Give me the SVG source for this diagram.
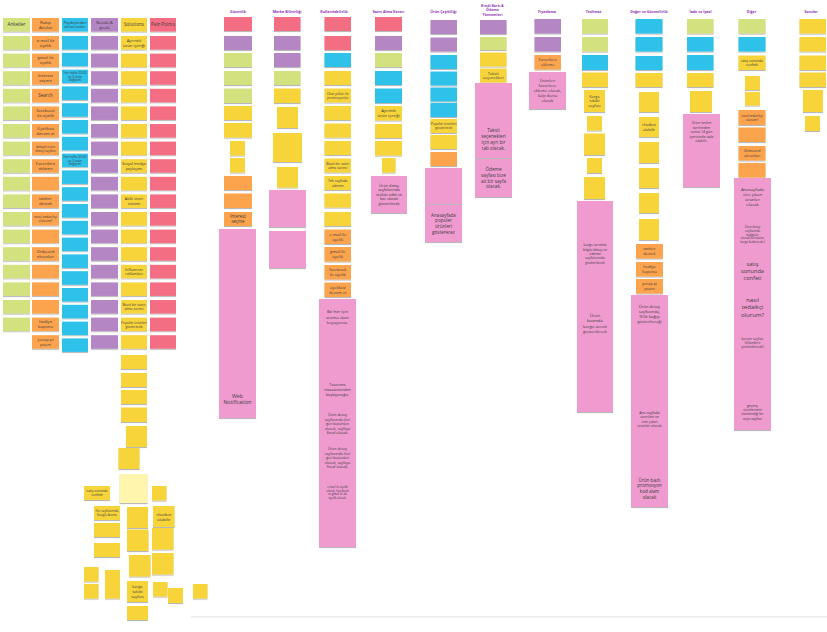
<svg xmlns="http://www.w3.org/2000/svg" width="827" height="632" viewBox="0 0 827 632">
<defs>
<filter id="sh" x="-10%" y="-10%" width="120%" height="150%"><feDropShadow dx="0" dy="1.1" stdDeviation="0.7" flood-color="#000" flood-opacity="0.28"/></filter>
<style>
.n{filter:url(#sh)}
.g{fill:#d3e17f}.o{fill:#fca34d}.b{fill:#2fc1ea}.v{fill:#b486c4}.y{fill:#f8d43a}.r{fill:#f36e82}.k{fill:#ef9bd0}.ly{fill:#fff5ad}
text{font-family:"Open Sans","Liberation Sans",sans-serif;text-anchor:middle;fill:#3c3c3c}
.h{fill:#8f30b3;font-weight:bold;font-size:3.6px}
</style>
</defs>
<rect width="827" height="632" fill="#ffffff"/>
<rect x="191" y="616" width="636" height="1.6" fill="#ececec"/>
<g id="connectors"/>

<!-- LEFT BOARD -->
<g id="left-headers">
<g id="h-anketler"><rect class="n g" x="3" y="18" width="27" height="13.5"/><text x="16.5" y="26.4" font-size="4.6">Anketler</text></g>
<g id="h-rakip"><rect class="n o" x="32" y="18" width="27" height="13.5"/><text x="45.5" font-size="4.3"><tspan x="45.5" y="23.6">Rakip</tspan><tspan x="45.5" y="28.8">Analizi</tspan></text></g>
<g id="h-paydas"><rect class="n b" x="62" y="18" width="26" height="13.5"/><text x="75" font-size="3.6"><tspan x="75" y="23.8">Paydaşlardan</tspan><tspan x="75" y="28.2">alınan notlar</tspan></text></g>
<g id="h-needs"><rect class="n v" x="91" y="18" width="27" height="13.5"/><text x="104.5" font-size="4.3"><tspan x="104.5" y="23.6">Needs &amp;</tspan><tspan x="104.5" y="28.8">goals</tspan></text></g>
<g id="h-solutions"><rect class="n y" x="121" y="18" width="26" height="13.5"/><text x="134" y="26.4" font-size="4.6">Solutions</text></g>
<g id="h-pain"><rect class="n r" x="150" y="18" width="26" height="13.5"/><text x="163" y="26.4" font-size="4.6">Pain Points</text></g>
</g>

<g id="col-anketler">
<rect id="a0" class="n g" x="3" y="36" width="27" height="13.5"/>
<rect id="a1" class="n g" x="3" y="53.6" width="27" height="13.5"/>
<rect id="a2" class="n g" x="3" y="71.2" width="27" height="13.5"/>
<rect id="a3" class="n g" x="3" y="88.8" width="27" height="13.5"/>
<rect id="a4" class="n g" x="3" y="106.4" width="27" height="13.5"/>
<rect id="a5" class="n g" x="3" y="124" width="27" height="13.5"/>
<rect id="a6" class="n g" x="3" y="141.6" width="27" height="13.5"/>
<rect id="a7" class="n g" x="3" y="159.2" width="27" height="13.5"/>
<rect id="a8" class="n g" x="3" y="176.8" width="27" height="13.5"/>
<rect id="a9" class="n g" x="3" y="194.4" width="27" height="13.5"/>
<rect id="a10" class="n g" x="3" y="212" width="27" height="13.5"/>
<rect id="a11" class="n g" x="3" y="229.6" width="27" height="13.5"/>
<rect id="a12" class="n g" x="3" y="247.2" width="27" height="13.5"/>
<rect id="a13" class="n g" x="3" y="264.8" width="27" height="13.5"/>
<rect id="a14" class="n g" x="3" y="282.4" width="27" height="13.5"/>
<rect id="a15" class="n g" x="3" y="300" width="27" height="13.5"/>
<rect id="a16" class="n g" x="3" y="317.6" width="27" height="13.5"/>
</g>

<g id="col-rakip">
<g id="o0"><rect class="n o" x="32" y="36" width="27" height="13.5"/><text font-size="4.2"><tspan x="45.5" y="41.7">e-mail ile</tspan><tspan x="45.5" y="46.7">üyelik</tspan></text></g>
<g id="o1"><rect class="n o" x="32" y="53.6" width="27" height="13.5"/><text font-size="4.2"><tspan x="45.5" y="59.3">gmail ile</tspan><tspan x="45.5" y="64.3">üyelik</tspan></text></g>
<g id="o2"><rect class="n o" x="32" y="71.2" width="27" height="13.5"/><text font-size="4.2"><tspan x="45.5" y="76.9">Interest</tspan><tspan x="45.5" y="81.9">seçme</tspan></text></g>
<g id="o3"><rect class="n o" x="32" y="88.8" width="27" height="13.5"/><text x="45.5" y="97.1" font-size="4.6">Search</text></g>
<g id="o4"><rect class="n o" x="32" y="106.4" width="27" height="13.5"/><text font-size="4.2"><tspan x="45.5" y="112.1">facebook</tspan><tspan x="45.5" y="117.1">ile üyelik</tspan></text></g>
<g id="o5"><rect class="n o" x="32" y="124" width="27" height="13.5"/><text font-size="4.2"><tspan x="45.5" y="129.7">Üyeliksiz</tspan><tspan x="45.5" y="134.7">devam et</tspan></text></g>
<g id="o6"><rect class="n o" x="32" y="141.6" width="27" height="13.5"/><text font-size="3.4"><tspan x="45.5" y="147.5">detaylı ürün</tspan><tspan x="45.5" y="151.5">detay sayfası</tspan></text></g>
<g id="o7"><rect class="n o" x="32" y="159.2" width="27" height="13.5"/><text font-size="4.2"><tspan x="45.5" y="164.9">Favorilere</tspan><tspan x="45.5" y="169.9">ekleme</tspan></text></g>
<rect id="o8" class="n o" x="32" y="176.8" width="27" height="13.5"/>
<g id="o9"><rect class="n o" x="32" y="194.4" width="27" height="13.5"/><text font-size="4.2"><tspan x="45.5" y="200.1">twitter</tspan><tspan x="45.5" y="205.1">destek</tspan></text></g>
<g id="o10"><rect class="n o" x="32" y="212" width="27" height="13.5"/><text font-size="3.6"><tspan x="45.5" y="217.8">nasıl tedarikçi</tspan><tspan x="45.5" y="222.2">olurum?</tspan></text></g>
<rect id="o11" class="n o" x="32" y="229.6" width="27" height="13.5"/>
<g id="o12"><rect class="n o" x="32" y="247.2" width="27" height="13.5"/><text font-size="4.2"><tspan x="45.5" y="252.9">Onboard</tspan><tspan x="45.5" y="257.9">ekranları</tspan></text></g>
<rect id="o13" class="n o" x="32" y="264.8" width="27" height="13.5"/>
<rect id="o14" class="n o" x="32" y="282.4" width="27" height="13.5"/>
<rect id="o15" class="n o" x="32" y="300" width="27" height="13.5"/>
<g id="o16"><rect class="n o" x="32" y="317.6" width="27" height="13.5"/><text font-size="4.2"><tspan x="45.5" y="323.3">hediye</tspan><tspan x="45.5" y="328.3">kuponu</tspan></text></g>
<g id="o17"><rect class="n o" x="32" y="335.2" width="27" height="13.5"/><text font-size="4.2"><tspan x="45.5" y="340.9">yorap pi</tspan><tspan x="45.5" y="345.9">puanı</tspan></text></g>
</g>

<g id="col-paydas">
<rect id="b0" class="n b" x="62" y="36" width="26" height="13.5"/>
<rect id="b1" class="n b" x="62" y="52.8" width="26" height="13.5"/>
<g id="b2"><rect class="n b" x="62" y="69.6" width="26" height="13.5"/><text font-size="3.2"><tspan x="75" y="73.7">Her hafta 30.00</tspan><tspan x="75" y="77.5">ya 3 ürün</tspan><tspan x="75" y="81.3">değişimi</tspan></text></g>
<rect id="b3" class="n b" x="62" y="86.4" width="26" height="13.5"/>
<rect id="b4" class="n b" x="62" y="103.2" width="26" height="13.5"/>
<rect id="b5" class="n b" x="62" y="120" width="26" height="13.5"/>
<rect id="b6" class="n b" x="62" y="136.8" width="26" height="13.5"/>
<g id="b7"><rect class="n b" x="62" y="153.6" width="26" height="13.5"/><text font-size="3.2"><tspan x="75" y="157.7">Her hafta 30.00</tspan><tspan x="75" y="161.5">ya 3 ürün</tspan><tspan x="75" y="165.3">değişimi</tspan></text></g>
<rect id="b8" class="n b" x="62" y="170.4" width="26" height="13.5"/>
<rect id="b9" class="n b" x="62" y="187.2" width="26" height="13.5"/>
<rect id="b10" class="n b" x="62" y="204" width="26" height="13.5"/>
<rect id="b11" class="n b" x="62" y="220.8" width="26" height="13.5"/>
<rect id="b12" class="n b" x="62" y="237.6" width="26" height="13.5"/>
<rect id="b13" class="n b" x="62" y="254.4" width="26" height="13.5"/>
<rect id="b14" class="n b" x="62" y="271.2" width="26" height="13.5"/>
<rect id="b15" class="n b" x="62" y="288" width="26" height="13.5"/>
<rect id="b16" class="n b" x="62" y="304.8" width="26" height="13.5"/>
<rect id="b17" class="n b" x="62" y="321.6" width="26" height="13.5"/>
<rect id="b18" class="n b" x="62" y="338.4" width="26" height="13.5"/>
</g>

<g id="col-needs">
<rect id="v0" class="n v" x="91" y="36" width="27" height="13.5"/>
<rect id="v1" class="n v" x="91" y="53.6" width="27" height="13.5"/>
<rect id="v2" class="n v" x="91" y="71.2" width="27" height="13.5"/>
<rect id="v3" class="n v" x="91" y="88.8" width="27" height="13.5"/>
<rect id="v4" class="n v" x="91" y="106.4" width="27" height="13.5"/>
<rect id="v5" class="n v" x="91" y="124" width="27" height="13.5"/>
<rect id="v6" class="n v" x="91" y="141.6" width="27" height="13.5"/>
<rect id="v7" class="n v" x="91" y="159.2" width="27" height="13.5"/>
<rect id="v8" class="n v" x="91" y="176.8" width="27" height="13.5"/>
<rect id="v9" class="n v" x="91" y="194.4" width="27" height="13.5"/>
<rect id="v10" class="n v" x="91" y="212" width="27" height="13.5"/>
<rect id="v11" class="n v" x="91" y="229.6" width="27" height="13.5"/>
<rect id="v12" class="n v" x="91" y="247.2" width="27" height="13.5"/>
<rect id="v13" class="n v" x="91" y="264.8" width="27" height="13.5"/>
<rect id="v14" class="n v" x="91" y="282.4" width="27" height="13.5"/>
<rect id="v15" class="n v" x="91" y="300" width="27" height="13.5"/>
<rect id="v16" class="n v" x="91" y="317.6" width="27" height="13.5"/>
<rect id="v17" class="n v" x="91" y="335.2" width="27" height="13.5"/>
</g>

<g id="col-solutions">
<g id="s0"><rect class="n y" x="121" y="36" width="26" height="13.5"/><text font-size="4.2"><tspan x="134" y="41.7">Ayrıntılı</tspan><tspan x="134" y="46.7">ürün içeriği</tspan></text></g>
<rect id="s1" class="n y" x="121" y="53.6" width="26" height="13.5"/>
<rect id="s2" class="n y" x="121" y="71.2" width="26" height="13.5"/>
<rect id="s3" class="n y" x="121" y="88.8" width="26" height="13.5"/>
<rect id="s4" class="n y" x="121" y="106.4" width="26" height="13.5"/>
<rect id="s5" class="n y" x="121" y="124" width="26" height="13.5"/>
<rect id="s6" class="n y" x="121" y="141.6" width="26" height="13.5"/>
<g id="s7"><rect class="n y" x="121" y="159.2" width="26" height="13.5"/><text font-size="3.8"><tspan x="134" y="165">Sosyal medya</tspan><tspan x="134" y="169.6">paylaşımı</tspan></text></g>
<rect id="s8" class="n y" x="121" y="176.8" width="26" height="13.5"/>
<g id="s9"><rect class="n y" x="121" y="194.4" width="26" height="13.5"/><text font-size="3.8"><tspan x="134" y="200.2">Akıllı öneri</tspan><tspan x="134" y="204.8">sistemi</tspan></text></g>
<rect id="s10" class="n y" x="121" y="212" width="26" height="13.5"/>
<rect id="s11" class="n y" x="121" y="229.6" width="26" height="13.5"/>
<rect id="s12" class="n y" x="121" y="247.2" width="26" height="13.5"/>
<g id="s13"><rect class="n y" x="121" y="264.8" width="26" height="13.5"/><text font-size="3.8"><tspan x="134" y="270.6">Influencer</tspan><tspan x="134" y="275.2">reklamları</tspan></text></g>
<rect id="s14" class="n y" x="121" y="282.4" width="26" height="13.5"/>
<g id="s15"><rect class="n y" x="121" y="300" width="26" height="13.5"/><text font-size="3.6"><tspan x="134" y="305.8">Basit bir satın</tspan><tspan x="134" y="310.2">alma süreci</tspan></text></g>
<g id="s16"><rect class="n y" x="121" y="317.6" width="26" height="13.5"/><text font-size="3.4"><tspan x="134" y="323.5">Popüler ürünleri</tspan><tspan x="134" y="327.6">gösterecek</tspan></text></g>
<rect id="s17" class="n y" x="121" y="335.2" width="26" height="13.5"/>
<rect id="s18" class="n y" x="121" y="355" width="26" height="14"/>
<rect id="s19" class="n y" x="121" y="373" width="26" height="14"/>
<rect id="s20" class="n y" x="121" y="390" width="26" height="14"/>
<rect id="s21" class="n y" x="121" y="407.5" width="26" height="14.5"/>
<rect id="s22" class="n y" x="126" y="426" width="21" height="21"/>
<rect id="s23" class="n y" x="118.5" y="448" width="21" height="21"/>
<rect id="s24" class="n ly" x="119.5" y="474" width="28" height="29"/>
<g id="s25"><rect class="n y" x="84" y="486" width="26" height="14"/><text font-size="3.3"><tspan x="97" y="492.1">satış sonunda</tspan><tspan x="97" y="496.1">confetti</tspan></text></g>
<rect id="s26" class="n y" x="152" y="486" width="14.5" height="14.5"/>
<g id="s27"><rect class="n y" x="94" y="506" width="26" height="14"/><text font-size="3"><tspan x="107" y="512.2">Her sayfalarında</tspan><tspan x="107" y="515.9">Google Arama</tspan></text></g>
<rect id="s28" class="n y" x="127" y="507" width="21" height="21"/>
<g id="s29"><rect class="n y" x="153" y="506" width="21.5" height="21"/><text font-size="4.2"><tspan x="163.75" y="515.5">chatbot</tspan><tspan x="163.75" y="520.5">olabilir</tspan></text></g>
<rect id="s30" class="n y" x="94" y="523" width="26" height="14"/>
<rect id="s31" class="n y" x="127" y="529.5" width="21.5" height="21.5"/>
<rect id="s32" class="n y" x="152" y="528" width="21.5" height="21.5"/>
<rect id="s33" class="n y" x="94" y="543" width="26" height="14"/>
<rect id="s34" class="n y" x="129" y="555" width="21.5" height="21.5"/>
<rect id="s35" class="n y" x="152" y="553" width="21.5" height="21.5"/>
<rect id="s36" class="n y" x="84" y="567" width="14.5" height="14.5"/>
<rect id="s37" class="n y" x="105" y="570" width="15" height="19"/>
<rect id="s38" class="n y" x="84" y="584" width="14.5" height="14.5"/>
<rect id="s39" class="n y" x="105" y="584" width="15" height="14.5"/>
<g id="s40"><rect class="n y" x="127" y="581" width="21" height="21"/><text font-size="4"><tspan x="137.5" y="588.1">kargo</tspan><tspan x="137.5" y="592.9">takibi</tspan><tspan x="137.5" y="597.7">sayfası</tspan></text></g>
<rect id="s41" class="n y" x="153" y="582" width="14.5" height="14.5"/>
<rect id="s42" class="n y" x="168" y="588" width="15" height="15"/>
<rect id="s43" class="n y" x="193" y="584" width="14.5" height="14.5"/>
<rect id="s44" class="n y" x="127" y="606" width="21" height="14"/>
</g>

<g id="col-pain">
<rect id="p0" class="n r" x="150" y="36" width="26" height="13.5"/>
<rect id="p1" class="n r" x="150" y="53.6" width="26" height="13.5"/>
<rect id="p2" class="n r" x="150" y="71.2" width="26" height="13.5"/>
<rect id="p3" class="n r" x="150" y="88.8" width="26" height="13.5"/>
<rect id="p4" class="n r" x="150" y="106.4" width="26" height="13.5"/>
<rect id="p5" class="n r" x="150" y="124" width="26" height="13.5"/>
<rect id="p6" class="n r" x="150" y="141.6" width="26" height="13.5"/>
<rect id="p7" class="n r" x="150" y="159.2" width="26" height="13.5"/>
<rect id="p8" class="n r" x="150" y="176.8" width="26" height="13.5"/>
<rect id="p9" class="n r" x="150" y="194.4" width="26" height="13.5"/>
<rect id="p10" class="n r" x="150" y="212" width="26" height="13.5"/>
<rect id="p11" class="n r" x="150" y="229.6" width="26" height="13.5"/>
<rect id="p12" class="n r" x="150" y="247.2" width="26" height="13.5"/>
<rect id="p13" class="n r" x="150" y="264.8" width="26" height="13.5"/>
<rect id="p14" class="n r" x="150" y="282.4" width="26" height="13.5"/>
<rect id="p15" class="n r" x="150" y="300" width="26" height="13.5"/>
<rect id="p16" class="n r" x="150" y="317.6" width="26" height="13.5"/>
<rect id="p17" class="n r" x="150" y="335.2" width="26" height="13.5"/>
</g>

<!-- RIGHT BOARD HEADERS -->
<g id="right-headers">
<text class="h" x="238" y="13">Güvenlik</text>
<text class="h" x="287" y="13">Marka Bilinirliği</text>
<text class="h" x="334" y="13">Kullanılabilirlik</text>
<text class="h" x="388.5" y="13">Satın Alma Kararı</text>
<text class="h" x="443.5" y="13">Ürün Çeşitliliği</text>
<text class="h"><tspan x="492.5" y="6.5">Kredi Kartı &amp;</tspan><tspan x="492.5" y="11.4">Ödeme</tspan><tspan x="492.5" y="16.3">Yöntemleri</tspan></text>
<text class="h" x="547" y="13">Fiyatlama</text>
<text class="h" x="593.5" y="13">Teslimat</text>
<text class="h" x="649" y="13">Değer ve Güvenilirlik</text>
<text class="h" x="700.5" y="13">İade ve İptal</text>
<text class="h" x="751.5" y="13">Diğer</text>
<text class="h" x="811" y="13">Sorular</text>
</g>

<g id="col-guvenlik">
<rect id="gv0" class="n r" x="224" y="17" width="28" height="14"/>
<rect id="gv1" class="n v" x="224" y="36" width="28" height="14"/>
<rect id="gv2" class="n g" x="224" y="53" width="28" height="14"/>
<rect id="gv3" class="n g" x="224" y="71" width="28" height="14"/>
<rect id="gv4" class="n g" x="224" y="88.5" width="28" height="14.5"/>
<rect id="gv5" class="n y" x="224" y="106" width="28" height="14"/>
<rect id="gv6" class="n y" x="224" y="123" width="28" height="14.5"/>
<rect id="gv7" class="n y" x="230" y="141" width="15" height="14.5"/>
<rect id="gv8" class="n y" x="230" y="158" width="15" height="14.5"/>
<rect id="gv9" class="n o" x="224" y="176" width="28" height="14"/>
<rect id="gv10" class="n o" x="224" y="193.5" width="28" height="14.5"/>
<g id="gv11"><rect class="n o" x="224" y="212" width="28" height="14"/><text font-size="4.4"><tspan x="238" y="217.9">Interest</tspan><tspan x="238" y="223.1">seçme</tspan></text></g>
<rect id="gv12" class="n k" x="219" y="229" width="37" height="37"/>
<rect id="gv13" class="n k" x="219" y="266" width="37" height="38"/>
<rect id="gv14" class="n k" x="219" y="304" width="37" height="38"/>
<rect id="gv15" class="n k" x="219" y="342" width="37" height="38"/>
<g id="gv16"><rect class="n k" x="219" y="380" width="37" height="38"/><text font-size="5.2"><tspan x="237.5" y="397.5">Web</tspan><tspan x="237.5" y="404.1">Notification</tspan></text></g>
</g>

<g id="col-marka">
<rect id="mk0" class="n r" x="274" y="17" width="26.5" height="14"/>
<rect id="mk1" class="n v" x="274" y="36" width="26.5" height="14"/>
<rect id="mk2" class="n v" x="274" y="53" width="26.5" height="14"/>
<rect id="mk3" class="n g" x="274" y="71" width="26.5" height="14"/>
<rect id="mk4" class="n y" x="274" y="88.5" width="26.5" height="14.5"/>
<rect id="mk5" class="n y" x="277" y="107" width="21" height="21"/>
<rect id="mk6" class="n y" x="273" y="133" width="29" height="29"/>
<rect id="mk7" class="n y" x="277" y="167" width="21" height="20.5"/>
<rect id="mk8" class="n k" x="269" y="190" width="37" height="37"/>
<rect id="mk9" class="n k" x="269" y="231" width="37" height="37"/>
</g>

<g id="col-kullanilabilirlik">
<rect id="ku0" class="n r" x="324.5" y="17" width="26.5" height="14"/>
<rect id="ku1" class="n r" x="324.5" y="36" width="26.5" height="14"/>
<rect id="ku2" class="n b" x="324.5" y="53" width="26.5" height="14"/>
<rect id="ku3" class="n y" x="324.5" y="71" width="26.5" height="14"/>
<g id="ku4"><rect class="n y" x="324.5" y="88.5" width="26.5" height="14"/><text font-size="3.3"><tspan x="337.75" y="94.6">Chat yolları ile</tspan><tspan x="337.75" y="98.6">promosyonlar</tspan></text></g>
<rect id="ku5" class="n y" x="324.5" y="106" width="26.5" height="14"/>
<rect id="ku6" class="n y" x="324.5" y="123.5" width="26.5" height="14"/>
<rect id="ku7" class="n y" x="324.5" y="141" width="26.5" height="14"/>
<g id="ku8"><rect class="n y" x="324.5" y="158.5" width="26.5" height="14"/><text font-size="3.6"><tspan x="337.75" y="164.6">Basit bir satın</tspan><tspan x="337.75" y="169">alma süreci</tspan></text></g>
<g id="ku9"><rect class="n y" x="324.5" y="176" width="26.5" height="14"/><text font-size="3.6"><tspan x="337.75" y="182.1">Tek sayfada</tspan><tspan x="337.75" y="186.5">ödeme</tspan></text></g>
<rect id="ku10" class="n y" x="324.5" y="193.5" width="26.5" height="14"/>
<rect id="ku11" class="n y" x="324.5" y="212" width="26.5" height="14"/>
<g id="ku12"><rect class="n o" x="324.5" y="229.5" width="26.5" height="14.5"/><text font-size="4"><tspan x="337.75" y="235.7">e-mail ile</tspan><tspan x="337.75" y="240.5">üyelik</tspan></text></g>
<g id="ku13"><rect class="n o" x="324.5" y="247" width="26.5" height="14.5"/><text font-size="4"><tspan x="337.75" y="253.2">gmail ile</tspan><tspan x="337.75" y="258">üyelik</tspan></text></g>
<g id="ku14"><rect class="n o" x="324.5" y="265" width="26.5" height="14.5"/><text font-size="4"><tspan x="337.75" y="271.2">facebook</tspan><tspan x="337.75" y="276">ile üyelik</tspan></text></g>
<g id="ku15"><rect class="n o" x="324.5" y="282.5" width="26.5" height="14.5"/><text font-size="4"><tspan x="337.75" y="288.7">üyeliksiz</tspan><tspan x="337.75" y="293.5">devam et</tspan></text></g>
<g id="ku16"><rect class="n k" x="319" y="299" width="37" height="36"/><text font-size="4.2"><tspan x="337.5" y="313.3">Bir her için</tspan><tspan x="337.5" y="318.5">arama alanı</tspan><tspan x="337.5" y="323.7">koyuyoruz.</tspan></text></g>
<rect id="ku17" class="n k" x="319" y="335" width="37" height="37"/>
<g id="ku18"><rect class="n k" x="319" y="372" width="37" height="35"/><text font-size="3.8"><tspan x="337.5" y="386.1">Tasarıma</tspan><tspan x="337.5" y="390.8">masaüstünden</tspan><tspan x="337.5" y="395.5">başlayacağız.</tspan></text></g>
<g id="ku19"><rect class="n k" x="319" y="407" width="37" height="34"/><text font-size="3.7"><tspan x="337.5" y="416.3">Ürün detay</tspan><tspan x="337.5" y="420.8">sayfasında ileri</tspan><tspan x="337.5" y="425.3">geri butonları</tspan><tspan x="337.5" y="429.8">olacak, sayfaya</tspan><tspan x="337.5" y="434.3">fixed olacak.</tspan></text></g>
<g id="ku20"><rect class="n k" x="319" y="441" width="37" height="34"/><text font-size="3.7"><tspan x="337.5" y="450.3">Ürün detay</tspan><tspan x="337.5" y="454.8">sayfasında ileri</tspan><tspan x="337.5" y="459.3">geri butonları</tspan><tspan x="337.5" y="463.8">olacak, sayfaya</tspan><tspan x="337.5" y="468.3">fixed olacak.</tspan></text></g>
<g id="ku21"><rect class="n k" x="319" y="475" width="37" height="35"/><text font-size="2.9"><tspan x="337.5" y="488.1">e-mail ile üyelik</tspan><tspan x="337.5" y="491.7">olacak, facebook</tspan><tspan x="337.5" y="495.3">ve gmail ile de</tspan><tspan x="337.5" y="498.9">üyelik olacak.</tspan></text></g>
<rect id="ku22" class="n k" x="319" y="510" width="37" height="37"/>
</g>

<g id="col-satinalma">
<rect id="sa0" class="n r" x="375" y="17" width="27" height="14"/>
<rect id="sa1" class="n v" x="375" y="36" width="27" height="14"/>
<rect id="sa2" class="n g" x="375" y="53" width="27" height="14"/>
<rect id="sa3" class="n b" x="375" y="71" width="27" height="14"/>
<rect id="sa4" class="n b" x="375" y="88.5" width="27" height="14.5"/>
<g id="sa5"><rect class="n y" x="375" y="106" width="27" height="14.5"/><text font-size="4.2"><tspan x="388.5" y="112">Ayrıntılı</tspan><tspan x="388.5" y="117">ürün içeriği</tspan></text></g>
<rect id="sa6" class="n y" x="375" y="124" width="27" height="14"/>
<rect id="sa7" class="n y" x="375" y="141" width="27" height="14.5"/>
<rect id="sa8" class="n y" x="382" y="158" width="13.5" height="14.5"/>
<g id="sa9"><rect class="n k" x="371" y="176" width="36" height="37"/><text font-size="3.8"><tspan x="389" y="186.6">Ürün detay</tspan><tspan x="389" y="191.2">sayfalarında</tspan><tspan x="389" y="195.8">stoklar adet ve</tspan><tspan x="389" y="200.4">bar olarak</tspan><tspan x="389" y="205">gösterilecek</tspan></text></g>
</g>

<g id="col-urun">
<rect id="uc0" class="n v" x="430.5" y="20" width="26.5" height="14"/>
<rect id="uc1" class="n v" x="430.5" y="37.5" width="26.5" height="14"/>
<rect id="uc2" class="n b" x="430.5" y="55" width="26.5" height="14"/>
<rect id="uc3" class="n b" x="430.5" y="71.5" width="26.5" height="14"/>
<rect id="uc4" class="n b" x="430.5" y="87.5" width="26.5" height="14"/>
<rect id="uc5" class="n b" x="430.5" y="103" width="26.5" height="14"/>
<g id="uc6"><rect class="n y" x="430.5" y="119" width="26.5" height="14"/><text font-size="3.4"><tspan x="443.75" y="125.1">Popüler ürünleri</tspan><tspan x="443.75" y="129.2">gösterecek</tspan></text></g>
<rect id="uc7" class="n y" x="430.5" y="135" width="26.5" height="14"/>
<rect id="uc8" class="n o" x="430.5" y="152" width="26.5" height="14"/>
<rect id="uc9" class="n k" x="425" y="168" width="37" height="36"/>
<g id="uc10"><rect class="n k" x="425" y="205" width="37" height="37"/><text font-size="4.6"><tspan x="443.5" y="216.5">Anasayfada</tspan><tspan x="443.5" y="222.2">populer</tspan><tspan x="443.5" y="227.9">ürünleri</tspan><tspan x="443.5" y="233.6">gösterecez</tspan></text></g>
</g>

<g id="col-kredi">
<rect id="kr0" class="n v" x="480" y="20" width="26.5" height="14"/>
<rect id="kr1" class="n g" x="480" y="37" width="26.5" height="13"/>
<rect id="kr2" class="n y" x="480" y="52.5" width="26.5" height="14"/>
<g id="kr3"><rect class="n y" x="480" y="68.5" width="26.5" height="14"/><text font-size="4"><tspan x="493.25" y="74.5">Taksit</tspan><tspan x="493.25" y="79.3">seçenekleri</tspan></text></g>
<rect id="kr4" class="n k" x="475" y="83" width="37" height="38"/>
<g id="kr5"><rect class="n k" x="475" y="121" width="37" height="37"/><text font-size="4.7"><tspan x="493.5" y="132.4">Taksit</tspan><tspan x="493.5" y="138.2">seçenekleri</tspan><tspan x="493.5" y="144">için ayrı bir</tspan><tspan x="493.5" y="149.8">tab olacak.</tspan></text></g>
<g id="kr6"><rect class="n k" x="475" y="159" width="37" height="38"/><text font-size="4.7"><tspan x="493.5" y="170.9">Ödeme</tspan><tspan x="493.5" y="176.7">sayfası bize</tspan><tspan x="493.5" y="182.5">ait bir sayfa</tspan><tspan x="493.5" y="188.3">olacak.</tspan></text></g>
</g>

<g id="col-fiyatlama">
<rect id="fy0" class="n v" x="534.5" y="19" width="26.5" height="14.5"/>
<rect id="fy1" class="n v" x="534.5" y="37" width="26.5" height="14.5"/>
<g id="fy2"><rect class="n o" x="534.5" y="55" width="26.5" height="14.5"/><text font-size="4"><tspan x="547.75" y="61.2">Favorilere</tspan><tspan x="547.75" y="66">ekleme</tspan></text></g>
<g id="fy3"><rect class="n k" x="529" y="72" width="37" height="37"/><text font-size="4"><tspan x="547.5" y="81.9">Ürünleri</tspan><tspan x="547.5" y="86.9">favorilere</tspan><tspan x="547.5" y="91.9">ekleme olacak,</tspan><tspan x="547.5" y="96.9">kalp ikonu</tspan><tspan x="547.5" y="101.9">olacak</tspan></text></g>
</g>

<g id="col-teslimat">
<rect id="ts0" class="n g" x="582" y="19" width="26" height="14.5"/>
<rect id="ts1" class="n g" x="582" y="37" width="26" height="14.5"/>
<rect id="ts2" class="n b" x="582" y="55" width="26" height="15"/>
<rect id="ts3" class="n y" x="582" y="72.5" width="26" height="14.5"/>
<g id="ts4"><rect class="n y" x="584" y="90" width="21" height="22"/><text font-size="3.9"><tspan x="594.5" y="97.7">Kargo</tspan><tspan x="594.5" y="102.4">takibi</tspan><tspan x="594.5" y="107.1">sayfası</tspan></text></g>
<rect id="ts5" class="n y" x="587" y="116" width="15" height="14.5"/>
<rect id="ts6" class="n y" x="584" y="133.5" width="21" height="21.5"/>
<rect id="ts7" class="n y" x="587" y="158" width="15" height="15"/>
<rect id="ts8" class="n y" x="584" y="177" width="21" height="22"/>
<rect id="ts9" class="n k" x="577" y="201" width="36" height="36"/>
<g id="ts10"><rect class="n k" x="577" y="237" width="36" height="34"/><text font-size="3.5"><tspan x="595" y="246.4">kargo ücretsiz</tspan><tspan x="595" y="250.7">bilgisi detay ve</tspan><tspan x="595" y="255">ödeme</tspan><tspan x="595" y="259.3">sayfalarında</tspan><tspan x="595" y="263.6">gösterilecek</tspan></text></g>
<rect id="ts11" class="n k" x="577" y="271" width="36" height="34"/>
<g id="ts12"><rect class="n k" x="577" y="305" width="36" height="37"/><text font-size="4.3"><tspan x="595" y="317">Ürün</tspan><tspan x="595" y="322.3">bazında</tspan><tspan x="595" y="327.6">kargo ücreti</tspan><tspan x="595" y="332.9">gösterilecek</tspan></text></g>
<rect id="ts13" class="n k" x="577" y="342" width="36" height="34"/>
<rect id="ts14" class="n k" x="577" y="376" width="36" height="36"/>
</g>

<g id="col-deger">
<rect id="dg0" class="n b" x="635.5" y="19" width="27" height="14.5"/>
<rect id="dg1" class="n b" x="635.5" y="37" width="27" height="14.5"/>
<rect id="dg2" class="n b" x="635.5" y="56" width="27" height="14"/>
<rect id="dg3" class="n y" x="635.5" y="73" width="27" height="14"/>
<rect id="dg4" class="n y" x="639" y="92" width="20" height="20"/>
<g id="dg5"><rect class="n y" x="639" y="117" width="20" height="20"/><text font-size="3.9"><tspan x="649" y="126">chatbot</tspan><tspan x="649" y="130.7">olabilir</tspan></text></g>
<rect id="dg6" class="n y" x="639" y="142" width="20" height="21"/>
<rect id="dg7" class="n y" x="639" y="168" width="20" height="20"/>
<rect id="dg8" class="n y" x="639" y="193" width="20" height="20"/>
<rect id="dg9" class="n y" x="639" y="219" width="20" height="21"/>
<g id="dg10"><rect class="n o" x="636" y="244" width="27" height="14.5"/><text font-size="4"><tspan x="649.5" y="250.2">twitter</tspan><tspan x="649.5" y="255">destek</tspan></text></g>
<g id="dg11"><rect class="n o" x="636" y="262" width="27" height="14.5"/><text font-size="4"><tspan x="649.5" y="268.2">hediye</tspan><tspan x="649.5" y="273">kuponu</tspan></text></g>
<g id="dg12"><rect class="n o" x="636" y="279" width="27" height="14.5"/><text font-size="4"><tspan x="649.5" y="285.2">yorap pi</tspan><tspan x="649.5" y="290">puanı</tspan></text></g>
<g id="dg13"><rect class="n k" x="631" y="295" width="37" height="38"/><text font-size="4.1"><tspan x="649.5" y="307.8">Ürün detay</tspan><tspan x="649.5" y="312.9">sayfasında,</tspan><tspan x="649.5" y="318">%'lik bağışı</tspan><tspan x="649.5" y="323.1">gösterileceği</tspan></text></g>
<rect id="dg14" class="n k" x="631" y="333" width="37" height="34"/>
<rect id="dg15" class="n k" x="631" y="367" width="37" height="35"/>
<g id="dg16"><rect class="n k" x="631" y="402" width="37" height="34"/><text font-size="3.6"><tspan x="649.5" y="413.5">Ana sayfada</tspan><tspan x="649.5" y="418">önerilen ve</tspan><tspan x="649.5" y="422.5">öne çıkan</tspan><tspan x="649.5" y="427">ürünler olacak</tspan></text></g>
<rect id="dg17" class="n k" x="631" y="436" width="37" height="34"/>
<g id="dg18"><rect class="n k" x="631" y="470" width="37" height="37"/><text font-size="4.6"><tspan x="649.5" y="481.7">Ürün bazlı</tspan><tspan x="649.5" y="487.3">promosyon</tspan><tspan x="649.5" y="492.9">kod alanı</tspan><tspan x="649.5" y="498.5">olacak</tspan></text></g>
</g>

<g id="col-iade">
<rect id="id0" class="n g" x="687" y="19" width="26.5" height="14.5"/>
<rect id="id1" class="n b" x="687" y="37" width="26.5" height="14.5"/>
<rect id="id2" class="n b" x="687" y="55" width="26.5" height="15"/>
<rect id="id3" class="n y" x="687" y="73" width="26.5" height="14"/>
<rect id="id4" class="n y" x="690" y="91" width="22" height="21"/>
<g id="id5"><rect class="n k" x="683" y="114" width="37" height="36"/><text font-size="3.6"><tspan x="701.5" y="124.3">Ürün teslim</tspan><tspan x="701.5" y="128.8">tarihinden</tspan><tspan x="701.5" y="133.3">sonra 14 gün</tspan><tspan x="701.5" y="137.8">içerisinde iade</tspan><tspan x="701.5" y="142.3">olabilir.</tspan></text></g>
<rect id="id6" class="n k" x="683" y="150" width="37" height="37"/>
</g>

<g id="col-diger">
<rect id="dr0" class="n g" x="738.5" y="19" width="27" height="14.5"/>
<rect id="dr1" class="n b" x="738.5" y="37" width="27" height="14.5"/>
<g id="dr2"><rect class="n y" x="738.5" y="55.5" width="27" height="14.5"/><text font-size="3.4"><tspan x="752" y="61.8">satış sonunda</tspan><tspan x="752" y="66">confetti</tspan></text></g>
<rect id="dr3" class="n y" x="745" y="76" width="15" height="14"/>
<rect id="dr4" class="n y" x="745" y="92" width="15" height="13.5"/>
<g id="dr5"><rect class="n o" x="738.5" y="110" width="27" height="15"/><text font-size="3.3"><tspan x="752" y="116.6">nasıl tedarikçi</tspan><tspan x="752" y="120.7">olurum?</tspan></text></g>
<rect id="dr6" class="n o" x="738.5" y="127.5" width="27" height="14.5"/>
<g id="dr7"><rect class="n o" x="738.5" y="146" width="27" height="14.5"/><text font-size="4"><tspan x="752" y="152.2">Onboard</tspan><tspan x="752" y="157">ekranları</tspan></text></g>
<rect id="dr8" class="n o" x="738.5" y="163" width="27" height="14.5"/>
<g id="dr9"><rect class="n k" x="734" y="178" width="37" height="38"/><text font-size="4.3"><tspan x="752.5" y="190.5">Anasayfada</tspan><tspan x="752.5" y="195.8">öne çıkan</tspan><tspan x="752.5" y="201.1">ürünler</tspan><tspan x="752.5" y="206.4">olacak</tspan></text></g>
<g id="dr10"><rect class="n k" x="734" y="216" width="37" height="37"/><text font-size="3"><tspan x="752.5" y="228.3">Ürün detay</tspan><tspan x="752.5" y="231.9">sayfasında</tspan><tspan x="752.5" y="235.5">badgeler</tspan><tspan x="752.5" y="239.1">olacak(Son kalan,</tspan><tspan x="752.5" y="242.7">kargo bedava vb.)</tspan></text></g>
<g id="dr11"><rect class="n k" x="734" y="253" width="37" height="36"/><text font-size="5.6"><tspan x="752.5" y="266">satış</tspan><tspan x="752.5" y="272.9">sonunda</tspan><tspan x="752.5" y="279.8">confeti</tspan></text></g>
<g id="dr12"><rect class="n k" x="734" y="289" width="37" height="36"/><text font-size="6"><tspan x="752.5" y="301.7">nasıl</tspan><tspan x="752.5" y="309.1">tedaikçi</tspan><tspan x="752.5" y="316.5">olurum?</tspan></text></g>
<g id="dr13"><rect class="n k" x="734" y="325" width="37" height="35"/><text font-size="3.3"><tspan x="752.5" y="339.6">kariyer sayfası</tspan><tspan x="752.5" y="343.7">(linkedin'e</tspan><tspan x="752.5" y="347.8">yönlendirecek)</tspan></text></g>
<rect id="dr14" class="n k" x="734" y="360" width="37" height="34"/>
<g id="dr15"><rect class="n k" x="734" y="394" width="37" height="36"/><text font-size="3.4"><tspan x="752.5" y="406.7">geçmiş</tspan><tspan x="752.5" y="411">ürünlerimin</tspan><tspan x="752.5" y="415.3">listelendiği bir</tspan><tspan x="752.5" y="419.6">arşiv sayfası</tspan></text></g>
</g>

<g id="col-sorular">
<rect id="so0" class="n y" x="799.5" y="19" width="26.5" height="14.5"/>
<rect id="so1" class="n y" x="799.5" y="37" width="26.5" height="14.5"/>
<rect id="so2" class="n y" x="799.5" y="55.5" width="26.5" height="14.5"/>
<rect id="so3" class="n y" x="799.5" y="72.5" width="26.5" height="14.5"/>
<rect id="so4" class="n y" x="803" y="90" width="20" height="22"/>
<rect id="so5" class="n y" x="805" y="116" width="15" height="15"/>
</g>
</svg>
